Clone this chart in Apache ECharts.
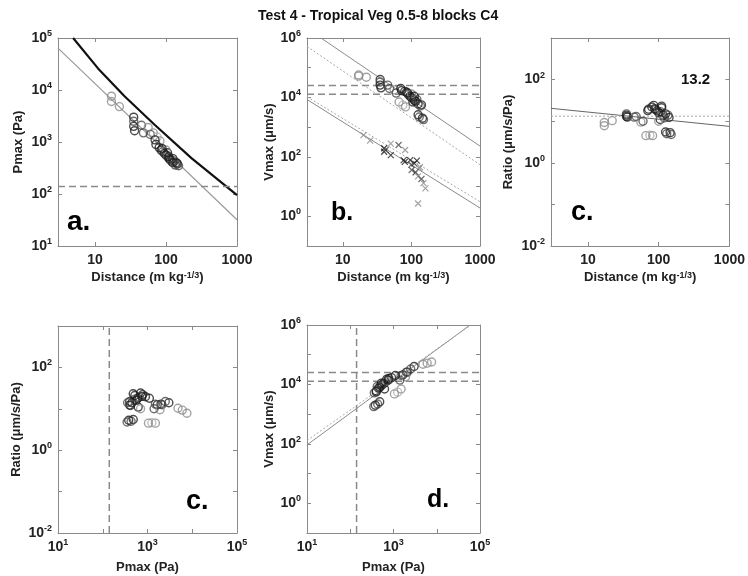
<!DOCTYPE html>
<html><head><meta charset="utf-8">
<script src="https://cdn.jsdelivr.net/npm/echarts@6/dist/echarts.min.js"></script>
<style>html,body{margin:0;padding:0;background:#fff}#c{width:748px;height:576px}</style>
</head><body><div id="c"></div>
<script>
// ---- data ----
const titleText = 'Test 4 - Tropical Veg 0.5-8 blocks C4';
// circle points: scaled distance, peak pressure, peak velocity, ratio, shade index
const distance = [17, 17, 22, 35, 35, 35, 36, 45, 48, 56, 60, 66, 75, 82, 70, 72, 80, 85, 90, 95, 100, 105, 110, 115, 120, 105, 100, 125, 130, 145, 150, 140, 88, 110, 125, 135];
const pmax     = [7600, 6000, 4800, 3000, 2500, 2000, 1650, 2100, 1500, 1900, 1400, 1500, 1250, 1050, 1100, 900, 780, 700, 650, 600, 560, 520, 480, 450, 420, 620, 700, 480, 430, 380, 350, 400, 750, 520, 400, 360];
const vmax     = [57000, 52000, 48000, 40000, 33000, 26000, 21000, 26000, 20000, 18000, 14000, 7000, 5500, 4800, 20000, 17000, 16000, 15000, 12500, 11000, 10000, 9000, 8000, 7500, 8500, 7000, 13000, 2600, 2200, 2000, 1800, 5600, 14000, 11000, 6000, 5200];
const ratio    = [7.8, 9.3, 10.3, 14, 15, 13, 12.5, 12.5, 13, 9.5, 10, 4.5, 4.6, 4.5, 18, 19.5, 22, 24, 19, 18, 16, 17, 23, 14, 12, 11, 10, 5.5, 5.0, 5.3, 4.8, 12.3, 20, 21, 15, 14];
const shade    = [2, 2, 2, 0, 1, 0, 0, 1, 1, 2, 1, 2, 3, 2, 0, 0, 0, 0, 1, 0, 0, 1, 0, 0, 1, 0, 2, 0, 1, 0, 1, 0, 0, 0, 0, 1];
// x markers in panel b
const distX  = [20, 25, 40, 40, 42, 50, 50, 65, 81, 77, 80, 96, 100, 110, 120, 133, 101, 115, 125, 140, 150, 160, 130, 125];
const vmaxX  = [540, 350, 195, 148, 170, 280, 115, 250, 170, 78, 68, 78, 55, 60, 75, 45, 36, 30, 22, 18, 13, 8.7, 41, 2.7];
const shadeX = [2, 2, 0, 0, 1, 2, 0, 1, 2, 0, 0, 0, 1, 0, 0, 2, 1, 0, 2, 1, 2, 2, 2, 2];
// reference curve & fitted lines
const curveDist = [4.9, 11, 26, 69, 228, 1000];
const curveP    = [100000, 26000, 7600, 2150, 490, 95];
const fitA_X = [3, 1000],   fitA_Y = [64000, 32];
const fitBv_X = [4.8, 1000], fitBv_Y = [1000000, 230];
const dotBv_X = [3, 1000],  dotBv_Y = [520000, 54];
const fitBx_X = [3, 1000],  fitBx_Y = [8500, 1.9];
const dotBx_X = [3, 1000],  dotBx_Y = [10500, 3.1];
const fitC_X = [3, 1000],   fitC_Y = [20.4, 7.5];
const meanRatio = 13.2;
const fitD_X = [10, 59000], fitD_Y = [92, 1000000];
const dotD_X = [10, 62000], dotD_Y = [130, 1000000];
const pLimit = 140;
const vLimits = [25400, 12700];
const distRange = [3, 1000], pRange = [10, 100000], vRange = [0.1, 1000000], rRange = [0.01, 1000], pRange2 = [10, 100000];

// ---- styles ----
const palette = ['#1e1e1e', '#4a4a4a', '#8c8c8c', '#b0b0b0'];
const font = 'Liberation Sans';
const axisCol = '#8a8a8a';
const txtCol = '#222';
const rich = {
  b: {fontSize: 14, fontWeight: 'bold', color: txtCol, fontFamily: font, lineHeight: 18},
  s: {fontSize: 9, fontWeight: 'bold', color: txtCol, fontFamily: font, verticalAlign: 'top'}
};
function isPow(v){ const e = Math.log10(v); return Math.abs(e - Math.round(e)) < 1e-6; }
function supFmt(filter){ return function(v){ if(!isPow(v)) return ''; const r = Math.round(Math.log10(v)); if(!filter(r)) return ''; return '{b|10}{s|' + r + '}'; }; }
function plainFmt(v){ if(!isPow(v)) return ''; const r = Math.round(Math.log10(v)); if (r < 1) return ''; return '{b|' + Math.pow(10, r) + '}'; }
const all = () => true, even = r => r % 2 === 0, odd = r => Math.abs(r % 2) === 1;

const grids = [
  {left: 58, top: 38, width: 179, height: 208},
  {left: 307, top: 38, width: 173, height: 208},
  {left: 551, top: 38, width: 180, height: 208},
  {left: 58, top: 326, width: 179, height: 207},
  {left: 307, top: 325, width: 173, height: 208}
];
const nameStyle = {fontSize: 13, fontWeight: 'bold', color: txtCol, fontFamily: font,
  rich: {s: {fontSize: 9, fontWeight: 'bold', color: txtCol, fontFamily: font, verticalAlign: 'top'}}};
const distName = 'Distance (m kg{s|-1/3})';
const axesSpec = [
  {xr: distRange, yr: pRange, xf: plainFmt, yf: supFmt(all), xn: distName, yn: 'Pmax (Pa)', xg: 25, yg: 33},
  {xr: distRange, yr: vRange, xf: plainFmt, yf: supFmt(even), xn: distName, yn: 'Vmax (\u03bcm/s)', xg: 25, yg: 31},
  {xr: distRange, yr: rRange, xf: plainFmt, yf: supFmt(even), xn: distName, yn: 'Ratio (\u03bcm/s/Pa)', xg: 25, yg: 36},
  {xr: pRange2, yr: rRange, xf: supFmt(odd), yf: supFmt(even), xn: 'Pmax (Pa)', yn: 'Ratio (\u03bcm/s/Pa)', xg: 28, yg: 35},
  {xr: pRange2, yr: vRange, xf: supFmt(odd), yf: supFmt(even), xn: 'Pmax (Pa)', yn: 'Vmax (\u03bcm/s)', xg: 28, yg: 31}
];
const xAxes = [], yAxes = [];
function baseAxis(gi, r){
  return {type: 'log', logBase: 10, gridIndex: gi, min: r[0], max: r[1],
    axisLine: {show: true, onZero: false, lineStyle: {color: axisCol, width: 1}},
    axisTick: {show: true, inside: true, length: 4, interval: 0, lineStyle: {color: axisCol}},
    splitLine: {show: false}};
}
axesSpec.forEach((s, gi) => {
  xAxes.push(Object.assign(baseAxis(gi, s.xr), {position: 'bottom',
    axisLabel: {show: true, interval: 0, formatter: s.xf, rich: rich, margin: 5, hideOverlap: false},
    name: s.xn, nameLocation: 'middle', nameGap: s.xg, nameTextStyle: nameStyle}));
  yAxes.push(Object.assign(baseAxis(gi, s.yr), {position: 'left',
    axisLabel: {show: true, interval: 0, formatter: s.yf, rich: rich, margin: 6, hideOverlap: false},
    name: s.yn, nameLocation: 'middle', nameRotate: 90, nameGap: s.yg, nameTextStyle: nameStyle}));
});
axesSpec.forEach((s, gi) => {
  xAxes.push(Object.assign(baseAxis(gi, s.xr), {position: 'top', axisLabel: {show: false}}));
  yAxes.push(Object.assign(baseAxis(gi, s.yr), {position: 'right', axisLabel: {show: false}}));
});

function pairs(xs, ys){ return xs.map((x, i) => [x, ys[i]]); }
function circles(gi, xs, ys){
  return {type: 'scatter', xAxisIndex: gi, yAxisIndex: gi, symbol: 'circle', symbolSize: 8, z: 5,
    data: xs.map((x, i) => ({value: [x, ys[i]], itemStyle: {color: 'rgba(0,0,0,0)', borderColor: palette[shade[i]], borderWidth: 1.4}})),
    emphasis: {disabled: true}};
}
function line(gi, xs, ys, color, type, width){
  return {type: 'line', xAxisIndex: gi, yAxisIndex: gi, data: pairs(xs, ys), showSymbol: false, symbol: 'none',
    lineStyle: {color: color, type: type, width: width}, z: 3, silent: true, clip: true, animation: false};
}
const thin = '#8a8a8a', dotCol = '#a8a8a8', dashCol = '#8a8a8a';
const series = [
  // a
  line(0, fitA_X, fitA_Y, '#9a9a9a', 'solid', 1.2),
  line(0, curveDist, curveP, '#111', 'solid', 2.2),
  line(0, distRange, [pLimit, pLimit], dashCol, [7, 4], 1.5),
  circles(0, distance, pmax),
  // b
  line(1, fitBv_X, fitBv_Y, thin, 'solid', 1),
  line(1, dotBv_X, dotBv_Y, dotCol, [2, 2], 1),
  line(1, fitBx_X, fitBx_Y, thin, 'solid', 1),
  line(1, dotBx_X, dotBx_Y, dotCol, [2, 2], 1),
  line(1, distRange, [vLimits[0], vLimits[0]], dashCol, [7, 4], 1.5),
  line(1, distRange, [vLimits[1], vLimits[1]], dashCol, [7, 4], 1.5),
  circles(1, distance, vmax),
  {type: 'scatter', xAxisIndex: 1, yAxisIndex: 1, symbol: 'path://M0,0L10,10M10,0L0,10', symbolSize: 6, z: 5,
    data: distX.map((x, i) => ({value: [x, vmaxX[i]], itemStyle: {color: 'rgba(0,0,0,0)', borderColor: palette[shadeX[i]], borderWidth: 1.2}}))},
  // c top
  line(2, fitC_X, fitC_Y, '#666', 'solid', 1),
  line(2, distRange, [meanRatio, meanRatio], dotCol, [2, 2], 1),
  circles(2, distance, ratio),
  // c bottom
  line(3, [pLimit, pLimit], rRange, dashCol, [7, 4], 1.5),
  circles(3, pmax, ratio),
  // d
  line(4, fitD_X, fitD_Y, thin, 'solid', 1),
  line(4, dotD_X, dotD_Y, dotCol, [2, 2], 1),
  line(4, [pLimit, pLimit], vRange, dashCol, [7, 4], 1.5),
  line(4, pRange2, [vLimits[0], vLimits[0]], dashCol, [7, 4], 1.5),
  line(4, pRange2, [vLimits[1], vLimits[1]], dashCol, [7, 4], 1.5),
  circles(4, pmax, vmax)
];

function letter(txt, x, y, size){
  return {type: 'text', x: x, y: y, z: 100, style: {text: txt, fill: '#000', font: 'bold ' + size + 'px ' + font, verticalAlign: 'middle'}};
}
const chart = echarts.init(document.getElementById('c'), null, {renderer: 'canvas'});
chart.setOption({
  animation: false,
  backgroundColor: '#fff',
  title: {text: titleText, left: 253, top: 4, textStyle: {fontSize: 14, fontWeight: 'bold', color: '#111', fontFamily: font}},
  grid: grids,
  xAxis: xAxes,
  yAxis: yAxes,
  series: series,
  graphic: [
    letter('a.', 67, 222, 28),
    letter('b.', 331, 213, 25),
    letter('c.', 571, 213, 27),
    letter('c.', 186, 502, 27),
    letter('d.', 427, 500, 25),
    {type: 'text', x: 681, y: 80, z: 100, style: {text: String(meanRatio), fill: '#111', font: 'bold 15px ' + font, verticalAlign: 'middle'}}
  ]
});
</script></body></html>
